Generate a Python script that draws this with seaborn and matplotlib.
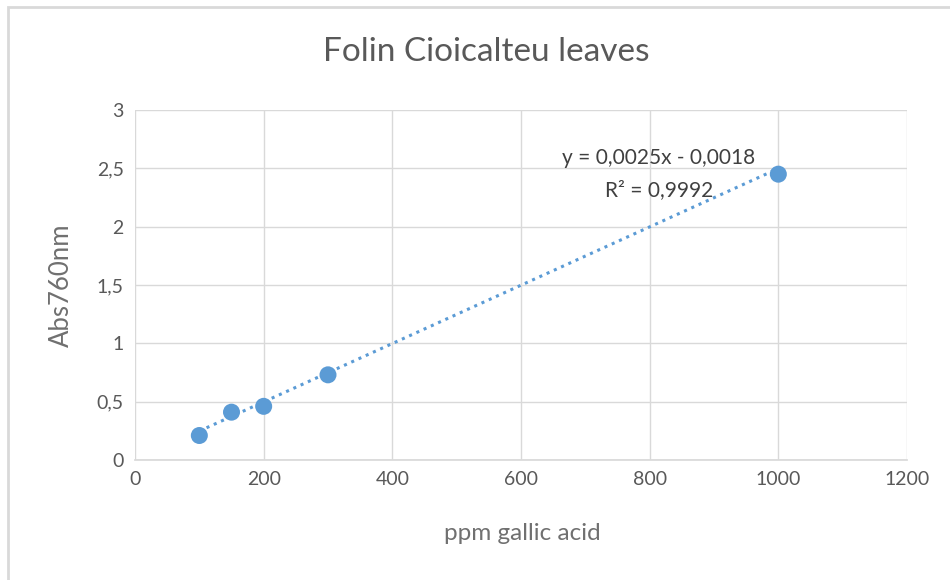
import numpy as np
import pandas as pd
import matplotlib
matplotlib.use("Agg")
import matplotlib.pyplot as plt
import seaborn as sns
from matplotlib.patches import Rectangle

# data
ppm = [100, 150, 200, 300, 1000]
absorbance = [0.21, 0.41, 0.46, 0.73, 2.45]
slope = 0.0025
intercept = -0.0018
eq_text = "y = 0,0025x - 0,0018"
r2_text = "R² = 0,9992"
x_ticks = [0, 200, 400, 600, 800, 1000, 1200]
y_ticks = [0, 0.5, 1, 1.5, 2, 2.5, 3]
y_tick_labels = ["0", "0,5", "1", "1,5", "2", "2,5", "3"]

sns.set_theme(style="white")
plt.rcParams['font.family'] = ['Lato', 'DejaVu Sans']

fig = plt.figure(figsize=(9.5, 5.8), dpi=100)
ax = fig.add_axes([135/950, 1-460/580, (907-135)/950, 350/580])

df = pd.DataFrame({"ppm": ppm, "abs": absorbance})
fit_x = np.array([min(ppm), max(ppm)])
fit = pd.DataFrame({"ppm": fit_x, "abs": slope*fit_x + intercept})

sns.lineplot(data=fit, x="ppm", y="abs", ax=ax, color="#5B9BD5",
             linestyle=(0, (1, 1.6)), linewidth=2.2, zorder=2)
sns.scatterplot(data=df, x="ppm", y="abs", ax=ax, color="#5B9BD5",
                s=150, edgecolor="none", zorder=3)

ax.set_xlim(0, 1200)
ax.set_ylim(0, 3)
ax.set_xticks(x_ticks)
ax.set_yticks(y_ticks)
ax.set_yticklabels(y_tick_labels)
ax.grid(True, color="#D9D9D9", linewidth=1)
ax.set_axisbelow(True)
for s in ["top", "right", "left"]:
    ax.spines[s].set_visible(False)
ax.spines["bottom"].set_color("#D9D9D9")
ax.tick_params(axis="both", colors="#595959", labelsize=14, length=0, pad=8)

ax.set_xlabel("")
ax.set_ylabel("")
fig.text(522/950, 1-533/580, "ppm gallic acid", ha="center", va="center",
         color="#707070", fontsize=17.5)
fig.text(61/950, 1-285/580, "Abs760nm", ha="center", va="center", rotation=90,
         color="#707070", fontsize=18.5)

fig.text(486/950, 1-52/580, "Folin Cioicalteu leaves", ha="center", va="center",
         color="#595959", fontsize=24)
ax.text(814, 2.589, eq_text, ha="center", va="center", color="#404040", fontsize=15)
ax.text(814, 2.314, r2_text, ha="center", va="center", color="#404040", fontsize=15)

fig.patches.append(Rectangle((8/950, -0.1), 1, 1.1-7/580, transform=fig.transFigure,
                             fill=False, edgecolor="#D9D9D9", linewidth=2))

fig.savefig("out.png", dpi=100)
